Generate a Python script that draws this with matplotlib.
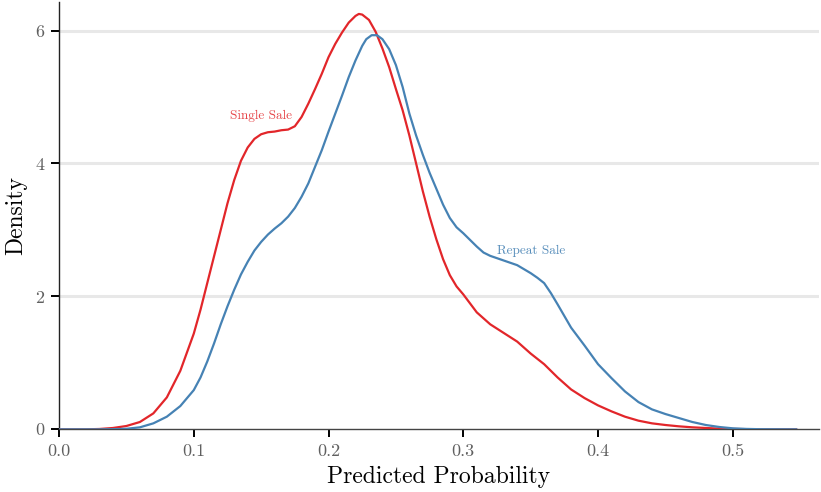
import matplotlib
matplotlib.use("Agg")
import matplotlib.pyplot as plt

plt.rcParams['font.family'] = ['cmr10', 'DejaVu Serif']
plt.rcParams['mathtext.fontset'] = 'cm'
plt.rcParams['axes.formatter.use_mathtext'] = True

# Single Sale density (x, density)
single_x = [0.0, 0.02, 0.03, 0.04, 0.05, 0.06, 0.07, 0.08, 0.09, 0.10, 0.105, 0.11,
            0.115, 0.12, 0.125, 0.13, 0.135, 0.14, 0.145, 0.15, 0.155, 0.16, 0.165,
            0.17, 0.175, 0.18, 0.185, 0.19, 0.195, 0.20, 0.205, 0.21, 0.215, 0.22,
            0.2225, 0.225, 0.23, 0.235, 0.24, 0.245, 0.25, 0.255, 0.26, 0.265, 0.27,
            0.275, 0.28, 0.285, 0.29, 0.295, 0.30, 0.31, 0.32, 0.33, 0.34, 0.35,
            0.36, 0.37, 0.38, 0.39, 0.40, 0.41, 0.42, 0.43, 0.44, 0.45, 0.46, 0.47,
            0.48, 0.49, 0.50, 0.52, 0.547]
single_y = [0.0, 0.0, 0.005, 0.02, 0.05, 0.11, 0.24, 0.48, 0.88, 1.44, 1.8, 2.2,
            2.6, 3.0, 3.4, 3.75, 4.04, 4.24, 4.37, 4.44, 4.47, 4.48, 4.5,
            4.51, 4.56, 4.7, 4.9, 5.12, 5.35, 5.6, 5.8, 5.97, 6.12, 6.22,
            6.25, 6.24, 6.16, 5.98, 5.73, 5.45, 5.12, 4.8, 4.42, 4.0, 3.58,
            3.2, 2.86, 2.56, 2.32, 2.15, 2.03, 1.76, 1.58, 1.45, 1.32, 1.14,
            0.98, 0.78, 0.6, 0.47, 0.36, 0.27, 0.19, 0.13, 0.09, 0.065, 0.045, 0.03,
            0.02, 0.01, 0.005, 0.001, 0.0]

# Repeat Sale density
repeat_x = [0.0, 0.03, 0.04, 0.05, 0.06, 0.07, 0.08, 0.09, 0.10, 0.105, 0.11, 0.115,
            0.12, 0.125, 0.13, 0.135, 0.14, 0.145, 0.15, 0.155, 0.16, 0.165, 0.17,
            0.175, 0.18, 0.185, 0.19, 0.195, 0.20, 0.205, 0.21, 0.215, 0.22, 0.225,
            0.228, 0.232, 0.236, 0.24, 0.245, 0.25, 0.255, 0.26, 0.265, 0.27, 0.275,
            0.28, 0.285, 0.29, 0.295, 0.30, 0.305, 0.31, 0.315, 0.32, 0.33, 0.34,
            0.35, 0.355, 0.36, 0.365, 0.37, 0.38, 0.39, 0.40, 0.41, 0.42, 0.43,
            0.44, 0.45, 0.46, 0.47, 0.48, 0.49, 0.50, 0.51, 0.52, 0.547]
repeat_y = [0.0, 0.0, 0.002, 0.008, 0.03, 0.09, 0.19, 0.35, 0.59, 0.78, 1.02, 1.29,
            1.58, 1.85, 2.1, 2.33, 2.52, 2.69, 2.82, 2.93, 3.02, 3.1, 3.2,
            3.33, 3.5, 3.7, 3.95, 4.2, 4.48, 4.75, 5.02, 5.3, 5.55, 5.77,
            5.87, 5.93, 5.93, 5.87, 5.72, 5.48, 5.15, 4.75, 4.42, 4.13, 3.86,
            3.62, 3.38, 3.18, 3.04, 2.95, 2.85, 2.75, 2.66, 2.61, 2.54, 2.47,
            2.35, 2.28, 2.2, 2.05, 1.88, 1.53, 1.26, 0.98, 0.77, 0.57, 0.41,
            0.3, 0.23, 0.17, 0.11, 0.065, 0.035, 0.015, 0.006, 0.002, 0.0]

labels = ["Single Sale", "Repeat Sale"]
label_pos = [(0.15, 4.72), (0.35, 2.68)]
xticks = [0.0, 0.1, 0.2, 0.3, 0.4, 0.5]
yticks = [0, 2, 4, 6]

red = '#e2262a'
blue = '#4682b4'

fig = plt.figure(figsize=(8.21, 4.92), dpi=100)
ax = fig.add_axes([0.0719, 0.1274, 0.9257, 0.8686])

ax.plot(single_x, single_y, color=red, lw=1.6, zorder=3, solid_joinstyle='round')
ax.plot(repeat_x, repeat_y, color=blue, lw=1.6, zorder=3, solid_joinstyle='round')

ax.text(label_pos[0][0], label_pos[0][1], labels[0], color=red, alpha=0.85,
        fontsize=9.5, ha='center', va='center')
ax.text(label_pos[1][0], label_pos[1][1], labels[1], color=blue, alpha=0.9,
        fontsize=9.5, ha='center', va='center')

ax.set_xlim(0, 0.564)
ax.set_ylim(0, 6.43)
ax.set_xticks(xticks)
ax.set_xticklabels([f"{t:.1f}" for t in xticks])
ax.set_yticks(yticks)
ax.set_yticklabels([str(t) for t in yticks])
for t in yticks[1:]:
    ax.axhline(t, color='#e8e8e8', lw=2.2, zorder=1)

for s in ['top', 'right']:
    ax.spines[s].set_visible(False)
ax.spines['left'].set_color('#222222')
ax.spines['bottom'].set_color('#444444')
ax.spines['left'].set_linewidth(1.0)
ax.spines['bottom'].set_linewidth(1.0)
ax.tick_params(axis='both', direction='out', length=6, width=1.4, color='black',
               labelsize=13, labelcolor='#606060', pad=4.5)

ax.set_xlabel("Predicted Probability", fontsize=17, labelpad=5)
ax.set_ylabel("Density", fontsize=17, labelpad=6)

fig.savefig("out.png", dpi=100)
